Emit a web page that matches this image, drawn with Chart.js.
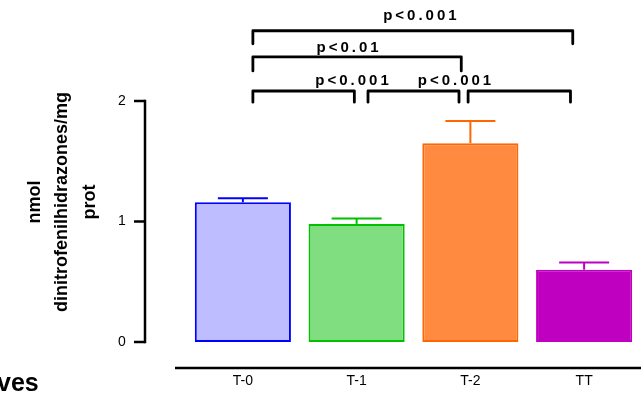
<!DOCTYPE html>
<html>
<head>
<meta charset="utf-8">
<script src="https://cdn.jsdelivr.net/npm/chart.js@4"></script>
<style>
  html, body { margin: 0; padding: 0; background: #fff; overflow: hidden; }
  #wrap { width: 641px; height: 400px; position: relative; }
</style>
</head>
<body>
<div id="wrap"><canvas id="c" width="641" height="400"></canvas></div>
<script>
// ---- data ----
const categories = ['T-0', 'T-1', 'T-2', 'TT'];
const means = [1.16, 0.98, 1.65, 0.60];
const sems = [0.033, 0.044, 0.183, 0.059];
const yTickValues = [0, 1, 2];
const yTitleLines = ['nmol', 'dinitrofenilhidrazones/mg', 'prot'];
const cornerText = 'ves';
// comparisons: group indices and p-value label
const compFrom = [0, 0, 0, 1, 2];
const compTo = [3, 2, 1, 2, 3];
const compLabels = ['p<0.001', 'p<0.01', 'p<0.001', 'p<0.001', ''];

// ---- styles ----
const fillColors = ['#BDBDFF', '#80DD80', '#FF8A40', '#C000C0'];
const borderColors = ['#0000FF', '#00C000', '#FF6600', '#C000C0'];
// bracket geometry (data units for height, category units for end nudges)
const bracketLevel = [2.583, 2.367, 2.083, 2.083, 2.083];
const bracketDrop = [0.108, 0.117, 0.093, 0.093, 0.093];
const bracketStartNudge = [0.088, 0.088, 0.088, 0.10, -0.02];
const bracketEndNudge = [-0.10, -0.08, -0.02, -0.10, -0.12];
const labelCenter = [1.556, 0.92, 0.96, 1.86, 0];
const labelRaise = [0.092, 0.042, 0.05, 0.05, 0];

const FONT = '"Liberation Sans", Arial, Helvetica, sans-serif';

const overlay = {
  id: 'overlay',
  afterDatasetsDraw(chart) {
    const { ctx, chartArea: a, scales: { x, y } } = chart;
    const line = (x1, y1, x2, y2) => { ctx.beginPath(); ctx.moveTo(x1, y1); ctx.lineTo(x2, y2); ctx.stroke(); };
    ctx.save();
    // error bars
    means.forEach((m, i) => {
      const cx = x.getPixelForValue(i);
      const y0 = y.getPixelForValue(m);
      const y1 = y.getPixelForValue(m + sems[i]);
      ctx.strokeStyle = borderColors[i];
      ctx.lineWidth = 2;
      line(cx, y0, cx, y1);
      line(cx - 25, y1, cx + 25, y1);
    });
    // y axis
    const axisX = a.left - 41;
    ctx.strokeStyle = '#000';
    ctx.lineWidth = 2.5;
    ctx.lineCap = 'square';
    line(axisX, y.getPixelForValue(0), axisX, y.getPixelForValue(2));
    ctx.lineCap = 'butt';
    yTickValues.forEach(t => {
      const py = y.getPixelForValue(t);
      line(axisX - 11, py, axisX, py);
    });
    // x axis (detached)
    const axisY = a.bottom + 26;
    line(a.left - 11, axisY, a.right, axisY);
    // brackets
    ctx.lineWidth = 2.8;
    ctx.lineJoin = 'round';
    ctx.lineCap = 'round';
    compFrom.forEach((f, i) => {
      const x1 = x.getPixelForValue(f + bracketStartNudge[i]);
      const x2 = x.getPixelForValue(compTo[i] + bracketEndNudge[i]);
      const yl = y.getPixelForValue(bracketLevel[i]);
      const yd = y.getPixelForValue(bracketLevel[i] - bracketDrop[i]);
      ctx.beginPath();
      ctx.moveTo(x1, yd); ctx.lineTo(x1, yl); ctx.lineTo(x2, yl); ctx.lineTo(x2, yd);
      ctx.stroke();
      if (compLabels[i]) {
        ctx.fillStyle = '#000';
        ctx.font = 'bold 15px ' + FONT;
        ctx.letterSpacing = '3px';
        ctx.textAlign = 'center';
        ctx.textBaseline = 'alphabetic';
        ctx.fillText(compLabels[i], x.getPixelForValue(labelCenter[i]) + 1.5, y.getPixelForValue(bracketLevel[i] + labelRaise[i]));
        ctx.letterSpacing = '0px';
      }
    });
    // y title
    ctx.fillStyle = '#000';
    ctx.font = 'bold 18px ' + FONT;
    ctx.textAlign = 'center';
    ctx.textBaseline = 'middle';
    const titleX = [35, 62, 90];
    yTitleLines.forEach((t, i) => {
      ctx.save();
      ctx.translate(titleX[i], 202);
      ctx.rotate(-Math.PI / 2);
      ctx.fillText(t, 0, 0);
      ctx.restore();
    });
    // clipped corner text
    ctx.font = 'bold 25px ' + FONT;
    ctx.textAlign = 'left';
    ctx.textBaseline = 'alphabetic';
    ctx.fillText(cornerText, -3, 391);
    ctx.restore();
  }
};

new Chart(document.getElementById('c'), {
  type: 'bar',
  data: {
    labels: categories,
    datasets: [{
      data: means,
      backgroundColor: fillColors,
      borderColor: borderColors,
      borderWidth: 2,
      borderSkipped: false,
      categoryPercentage: 1,
      barPercentage: 0.845
    }]
  },
  options: {
    responsive: false,
    animation: false,
    devicePixelRatio: 1,
    layout: { padding: { top: 101, left: 118, right: 0, bottom: 0 } },
    plugins: { legend: { display: false }, tooltip: { enabled: false } },
    scales: {
      x: {
        grid: { display: false },
        border: { display: false },
        ticks: { color: '#000', font: { family: FONT, size: 14 }, padding: 23 },
        afterFit(s) { s.height = 58; }
      },
      y: {
        min: 0, max: 2,
        grid: { display: false },
        border: { display: false },
        ticks: { stepSize: 1, color: '#000', font: { family: FONT, size: 14 }, padding: 2, crossAlign: 'far' },
        afterFit(s) { s.width = 68; }
      }
    }
  },
  plugins: [overlay]
});
</script>
</body>
</html>
